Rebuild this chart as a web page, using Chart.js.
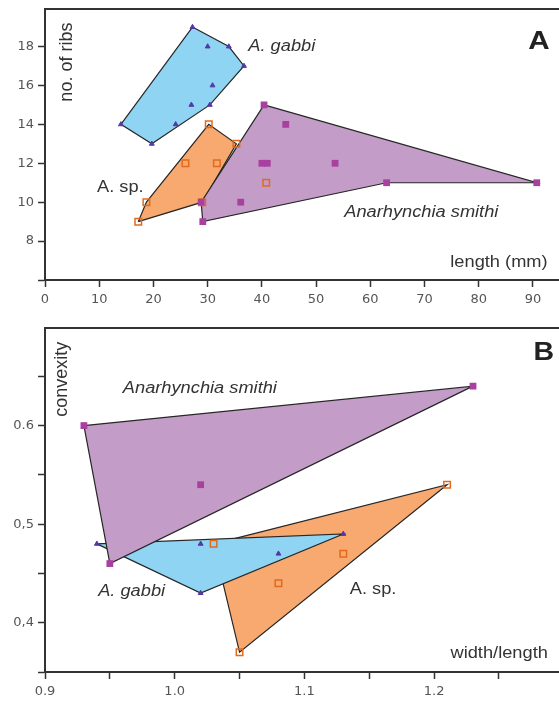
<!DOCTYPE html>
<html>
<head>
<meta charset="utf-8">
<script src="https://cdn.jsdelivr.net/npm/chart.js@4/dist/chart.umd.min.js"></script>
<style>
	html, body { margin: 0; padding: 0; background: #fff; }
	#wrap { position: relative; width: 559px; height: 702px; overflow: hidden; }
	canvas { position: absolute; left: 0; display: block; }
	#ribsChart { top: 0; }
	#convexChart { top: 310px; }
</style>
</head>
<body>
<div id="wrap">
	<canvas id="ribsChart" width="559" height="310"></canvas>
	<canvas id="convexChart" width="559" height="392"></canvas>
</div>
<script>
// Panel A: length (mm) vs no. of ribs  [x, y]
const ribsGabbiHull = [[27.2, 19], [33.9, 18], [36.7, 17], [30.4, 15], [19.7, 13], [14, 14]];
const ribsGabbiOther = [[30, 18], [30.9, 16], [27, 15], [24.1, 14]];
const ribsSpHull = [[17.2, 9], [18.7, 10], [30.2, 14], [35.3, 13], [29, 10]];
const ribsSpOther = [[25.9, 12], [31.7, 12], [40.8, 11]];
const ribsSmithiHull = [[40.4, 15], [90.7, 11], [63, 11], [29.1, 9], [28.8, 10]];
const ribsSmithiOther = [[44.4, 14], [40, 12], [41, 12], [53.5, 12], [36.1, 10]];

// Panel B: width/length vs convexity  [x, y]
const convGabbiHull = [[0.94, 0.48], [1.13, 0.49], [1.02, 0.43]];
const convGabbiOther = [[1.02, 0.48], [1.08, 0.47]];
const convSpHull = [[1.03, 0.48], [1.21, 0.54], [1.05, 0.37]];
const convSpOther = [[1.13, 0.47], [1.08, 0.44]];
const convSmithiHull = [[0.93, 0.60], [1.23, 0.64], [0.95, 0.46]];
const convSmithiOther = [[1.02, 0.54]];

// ticks
const lengthTicks = [0, 10, 20, 30, 40, 50, 60, 70, 80, 90];
const lengthTickLabels = ['0', '10', '20', '30', '40', '50', '60', '70', '80', '90'];
const ribTicks = [6, 8, 10, 12, 14, 16, 18];
const ribTickLabels = ['', '8', '10', '12', '14', '16', '18'];
const ratioTicks = [0.9, 0.95, 1.0, 1.05, 1.1, 1.15, 1.2, 1.25];
const ratioTickLabels = ['0.9', '', '1.0', '', '1.1', '', '1.2', ''];
const convexTicks = [0.35, 0.4, 0.45, 0.5, 0.55, 0.6, 0.65];
const convexTickLabels = ['', '0,4', '', '0,5', '', '0.6', ''];

const colors = {
	gabbiFill: '#8fd5f3', gabbiMark: '#5636a8',
	spFill: '#f8a96f', spMark: '#e06b1c',
	smithiFill: '#c49cc8', smithiMark: '#a8409f',
	edge: '#262626', axis: '#333', tickText: '#555', text: '#333'
};
const fontFamily = "'Liberation Sans', Arial, sans-serif";
const tickFamily = "'DejaVu Sans', sans-serif";

const notesA = [
	{ text: 'A. gabbi', x: 37.5, y: 18.0, font: 'italic 16px ' + fontFamily },
	{ text: 'A. sp.', x: 9.6, y: 10.75, font: '16px ' + fontFamily },
	{ text: 'Anarhynchia smithi', x: 55.2, y: 9.45, font: 'italic 16px ' + fontFamily },
	{ text: 'length (mm)', x: 92.7, y: 6.9, font: '16px ' + fontFamily, align: 'right' },
	{ text: 'no. of ribs', x: 4.1, y: 17.2, font: '18px ' + fontFamily, rotate: true, align: 'center' },
	{ text: 'A', x: 91.1, y: 18.25, font: 'bold 26px ' + fontFamily, align: 'center', color: '#222' }
];
const notesB = [
	{ text: 'Anarhynchia smithi', x: 0.960, y: 0.638, font: 'italic 16px ' + fontFamily },
	{ text: 'A. gabbi', x: 0.941, y: 0.432, font: 'italic 16px ' + fontFamily },
	{ text: 'A. sp.', x: 1.135, y: 0.434, font: '16px ' + fontFamily },
	{ text: 'width/length', x: 1.2877, y: 0.369, font: '16px ' + fontFamily, align: 'right' },
	{ text: 'convexity', x: 0.9129, y: 0.647, font: '18px ' + fontFamily, rotate: true, align: 'center' },
	{ text: 'B', x: 1.2845, y: 0.674, font: 'bold 25px ' + fontFamily, align: 'center', color: '#222' }
];
const textStretch = 1.14;

// frame top line + in-plot labels
const panelText = {
	id: 'panelText',
	afterDraw(chart, args, opts) {
		const { ctx, chartArea, scales } = chart;
		ctx.save();
		ctx.strokeStyle = colors.axis;
		ctx.lineWidth = 2;
		ctx.beginPath();
		ctx.moveTo(chartArea.left - 1, chartArea.top);
		ctx.lineTo(chartArea.right, chartArea.top);
		ctx.stroke();
		(opts.notes || []).forEach(n => {
			const px = scales.x.getPixelForValue(n.x);
			const py = scales.y.getPixelForValue(n.y);
			ctx.save();
			ctx.font = n.font;
			ctx.fillStyle = n.color || colors.text;
			ctx.textAlign = n.align || 'left';
			ctx.textBaseline = 'middle';
			ctx.translate(px, py);
			if (n.rotate) ctx.rotate(-Math.PI / 2);
			else ctx.scale(textStretch, 1);
			ctx.fillText(n.text, 0, 0);
			ctx.restore();
		});
		ctx.restore();
	}
};

function toXY(points) {
	return points.map(p => ({ x: p[0], y: p[1] }));
}

function hull(points, fillColor, order) {
	return {
		data: toXY(points.concat([points[0]])),
		showLine: true,
		fill: 'shape',
		backgroundColor: fillColor,
		borderColor: colors.edge,
		borderWidth: 1.2,
		pointRadius: 0,
		pointHoverRadius: 0,
		order
	};
}

function marks(points, style, order) {
	return {
		data: toXY(points),
		showLine: false,
		pointStyle: style.shape,
		pointRadius: style.radius,
		pointBackgroundColor: style.fill,
		pointBorderColor: style.border,
		pointBorderWidth: style.borderWidth,
		order
	};
}

const gabbiMark = { shape: 'triangle', radius: 2.8, fill: colors.gabbiMark, border: colors.gabbiMark, borderWidth: 1 };
const spMark = { shape: 'rect', radius: 4.6, fill: 'rgba(255,255,255,0)', border: colors.spMark, borderWidth: 1.5 };
const smithiMark = { shape: 'rect', radius: 4.8, fill: colors.smithiMark, border: colors.smithiMark, borderWidth: 0 };

function axis(min, max, ticks, labels, isX) {
	return {
		type: 'linear',
		min,
		max,
		afterBuildTicks: s => { s.ticks = ticks.map(v => ({ value: v })); },
		afterFit: s => {
			if (isX) s.height = 30; else s.width = 45;
			s.paddingLeft = 0;
			s.paddingRight = 0;
			s.paddingTop = 0;
			s.paddingBottom = 0;
		},
		grid: {
			display: true,
			drawOnChartArea: false,
			drawTicks: true,
			tickLength: 7,
			tickWidth: 1.5,
			tickColor: colors.axis
		},
		border: { display: true, color: colors.axis, width: 2 },
		ticks: {
			autoSkip: false,
			maxRotation: 0,
			padding: isX ? 5 : 4,
			color: colors.tickText,
			font: { family: tickFamily, size: 13 },
			callback: (v, i) => labels[i]
		}
	};
}

function baseOptions(notes, xAxis, yAxis, padTop) {
	return {
		responsive: false,
		animation: false,
		events: [],
		layout: { padding: { top: padTop, right: 0, bottom: 0, left: 0 }, autoPadding: false },
		scales: { x: xAxis, y: yAxis },
		plugins: {
			legend: { display: false },
			tooltip: { enabled: false },
			panelText: { notes }
		}
	};
}

new Chart(document.getElementById('ribsChart').getContext('2d'), {
	type: 'scatter',
	data: {
		datasets: [
			hull(ribsGabbiHull, colors.gabbiFill, 12),
			hull(ribsSpHull, colors.spFill, 11),
			hull(ribsSmithiHull, colors.smithiFill, 10),
			marks(ribsSpOther.concat(ribsSpHull), spMark, 2),
			marks(ribsSmithiOther.concat(ribsSmithiHull), smithiMark, 1),
			marks(ribsGabbiOther.concat(ribsGabbiHull), gabbiMark, 0)
		]
	},
	options: baseOptions(notesA,
		axis(0, 94.8, lengthTicks, lengthTickLabels, true),
		axis(6, 19.93, ribTicks, ribTickLabels, false), 9),
	plugins: [panelText]
});

new Chart(document.getElementById('convexChart').getContext('2d'), {
	type: 'scatter',
	data: {
		datasets: [
			hull(convSpHull, colors.spFill, 12),
			hull(convGabbiHull, colors.gabbiFill, 11),
			hull(convSmithiHull, colors.smithiFill, 10),
			marks(convSpOther.concat(convSpHull), spMark, 2),
			marks(convSmithiOther.concat(convSmithiHull), smithiMark, 1),
			marks(convGabbiOther.concat(convGabbiHull), gabbiMark, 0)
		]
	},
	options: baseOptions(notesB,
		axis(0.9, 1.2963, ratioTicks, ratioTickLabels, true),
		axis(0.35, 0.699, convexTicks, convexTickLabels, false), 18),
	plugins: [panelText]
});
</script>
</body>
</html>
